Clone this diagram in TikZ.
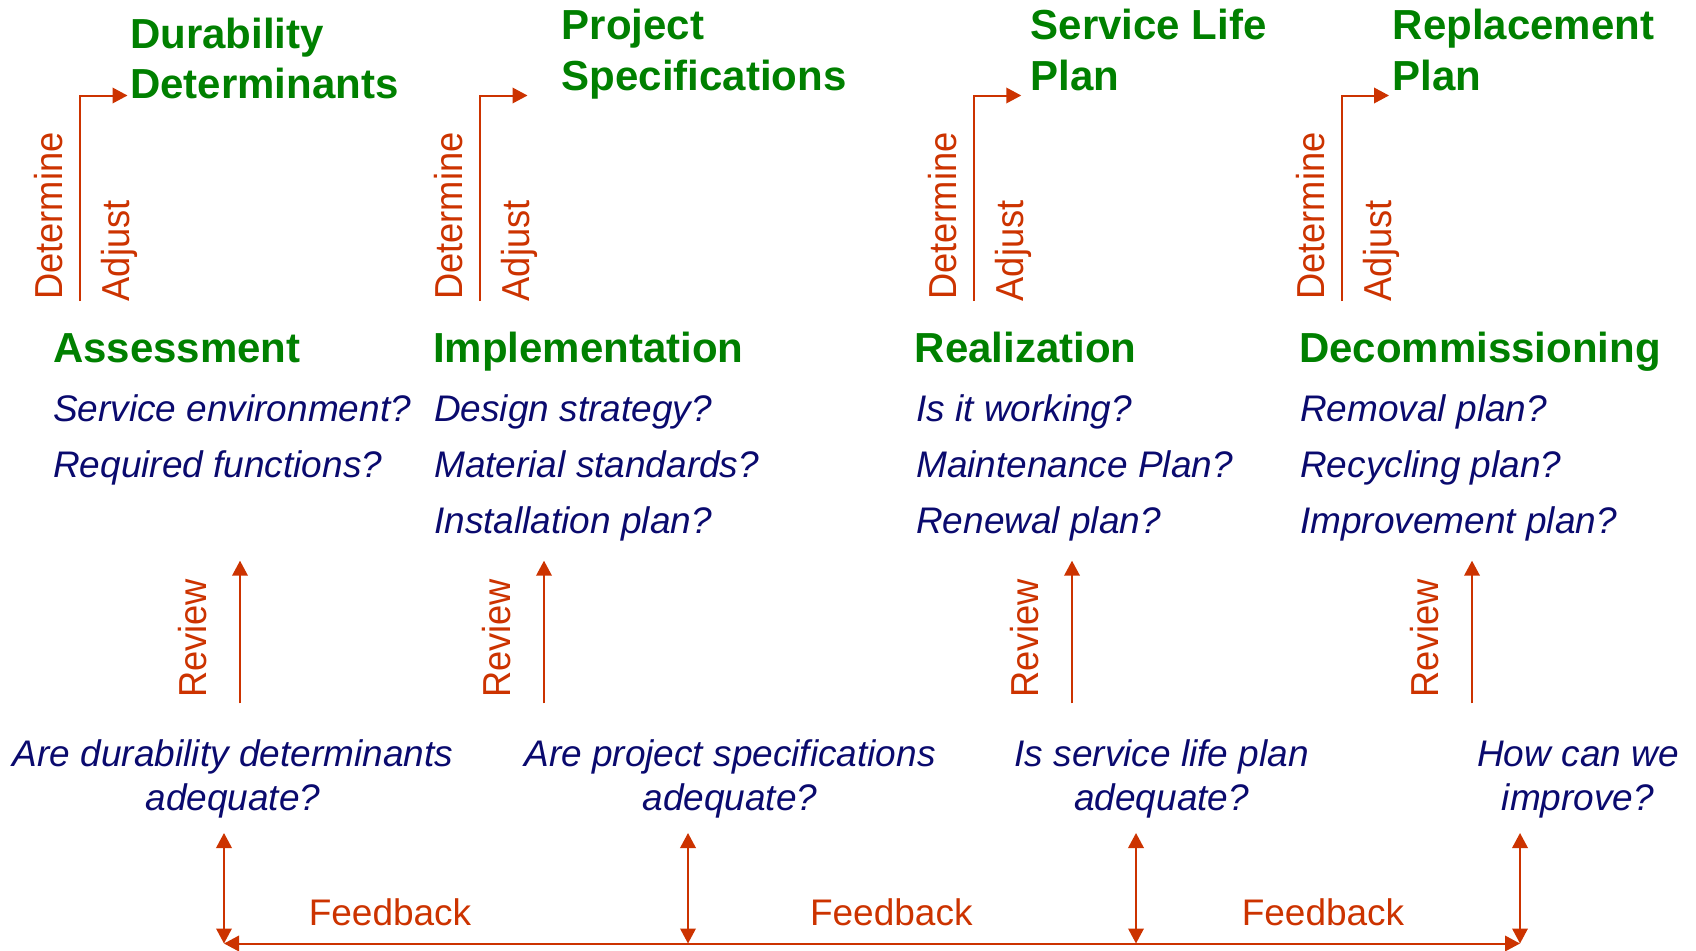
\documentclass[tikz,border=0pt]{standalone}
\usepackage{fontspec}
\setmainfont{Liberation Sans}
\newfontfamily\rotfont[FakeStretch=0.93]{Liberation Sans}
\usetikzlibrary{arrows.meta}
\definecolor{stagegreen}{HTML}{008000}
\definecolor{flowred}{HTML}{CC3300}
\definecolor{asknavy}{HTML}{0A0A6E}

\tikzset{
  headline/.style={font=\fontsize{42}{50}\selectfont\bfseries, text=stagegreen, anchor=base west, inner sep=0pt},
  ask/.style={font=\fontsize{37}{44}\selectfont\itshape, text=asknavy, anchor=base west, inner sep=0pt},
  askc/.style={ask, anchor=base},
  redlabel/.style={font=\fontsize{37}{44}\selectfont, text=flowred, inner sep=0pt, anchor=base},
  vlabel/.style={font=\rotfont\fontsize{39}{46}\selectfont, text=flowred, inner sep=0pt, rotate=90, anchor=base west},
  flow/.style={draw=flowred, line width=2pt, -{Triangle[length=15pt,width=15.5pt]}},
  biflow/.style={draw=flowred, line width=2pt, {Triangle[length=15pt,width=15.5pt]}-{Triangle[length=15pt,width=15.5pt]}},
}

\begin{document}
\begin{tikzpicture}[x=1pt, y=-1pt]
\useasboundingbox (0,0) rectangle (1696,950);

% ---- outputs of each stage ----
\node[headline] (out1a) at (130,48.3) {Durability};
\node[headline] (out1b) at (130,98.3) {Determinants};
\node[headline] (out2a) at (561.5,40) {Project};
\node[headline] (out2b) at (561.5,90) {Specifications};
\node[headline] (out3a) at (1030.5,40) {Service Life};
\node[headline] (out3b) at (1030.5,90) {Plan};
\node[headline] (out4a) at (1392.5,40) {Replacement};
\node[headline] (out4b) at (1392.5,90) {Plan};

% ---- determine / adjust connectors ----
\foreach \i/\x in {1/80, 2/480, 3/973.75, 4/1341.5} {
  \coordinate (foot\i) at (\x,301);
  \coordinate (head\i) at (\x+47.5,95.5);
  \draw[flow] (foot\i) |- (head\i);
  \node[vlabel] (det\i) at (\x-17.3,300) {Determine};
  \node[vlabel] (adj\i) at (\x+49.5,301.5) {Adjust};
}

% ---- stages ----
\node[headline] (st1) at (53,362.7) {Assessment};
\node[headline] (st2) at (433,362.7) {Implementation};
\node[headline] (st3) at (914.5,362.7) {Realization};
\node[headline] (st4) at (1299,362.7) {Decommissioning};

\node[ask] (q11) at (53,421) {Service environment?};
\node[ask] (q12) at (53,477) {Required functions?};

\node[ask] (q21) at (434,421) {Design strategy?};
\node[ask] (q22) at (434,477) {Material standards?};
\node[ask] (q23) at (434,533) {Installation plan?};

\node[ask] (q31) at (916,421) {Is it working?};
\node[ask] (q32) at (916,477) {Maintenance Plan?};
\node[ask] (q33) at (916,533) {Renewal plan?};

\node[ask] (q41) at (1300,421) {Removal plan?};
\node[ask] (q42) at (1300,477) {Recycling plan?};
\node[ask] (q43) at (1300,533) {Improvement plan?};

% ---- review connectors ----
\foreach \i/\x in {1/240, 2/544, 3/1072, 4/1472} {
  \coordinate (rvlow\i) at (\x,703.3);
  \coordinate (rvtop\i) at (\x,560.7);
  \draw[flow] (rvlow\i) -- (rvtop\i);
  \node[vlabel] (rv\i) at (\x-33.5,698) {Review};
}

% ---- review questions ----
\node[askc] (c1a) at (233,766) {Are durability determinants};
\node[askc] (c1b) at (233,810) {adequate?};
\node[askc] (c2a) at (730,766) {Are project specifications};
\node[askc] (c2b) at (730,810) {adequate?};
\node[askc] (c3a) at (1161.6,766) {Is service life plan};
\node[askc] (c3b) at (1161.6,810) {adequate?};
\node[askc] (c4a) at (1578,766) {How can we};
\node[askc] (c4b) at (1578,810) {improve?};

% ---- feedback loop ----
\foreach \i/\x in {1/224, 2/688, 3/1136, 4/1520} {
  \coordinate (fbtop\i) at (\x,833);
  \coordinate (fbbot\i) at (\x,943.5);
  \draw[biflow] (fbtop\i) -- (fbbot\i);
}
\draw[biflow] (fbbot1) -- (fbbot4);

\node[redlabel] (fb1) at (390,925.5) {Feedback};
\node[redlabel] (fb2) at (891.3,925.5) {Feedback};
\node[redlabel] (fb3) at (1323,925.5) {Feedback};

\end{tikzpicture}
\end{document}
